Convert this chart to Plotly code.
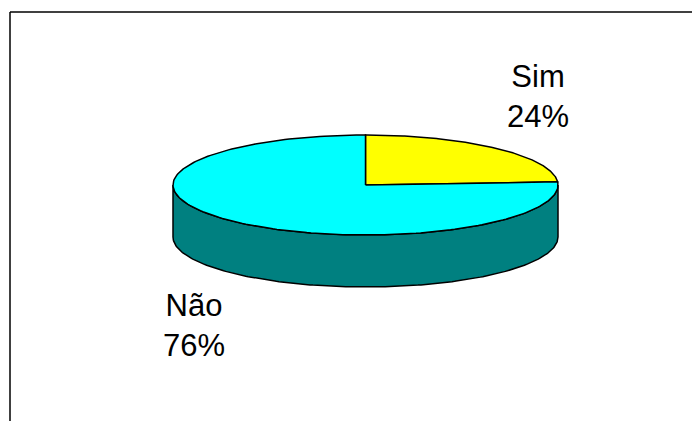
import numpy as np
import plotly.graph_objects as go

# ---- data ----
labels = ["Sim", "Não"]
values = [24, 76]
top_colors = ["#FFFF00", "#00FFFF"]
side_colors = ["#808000", "#008080"]

# ---- layout geometry (pixels) ----
W, H = 692, 421
cx, cy, rx, ry, depth = 365.5, 185.0, 192.5, 50.0, 52.0
label_pos = {"Sim": (538, 96), "Não": (194, 325)}


def arc(t0, t1, dy=0.0, n=200):
    t = np.linspace(t0, t1, n)
    return list(cx + rx * np.cos(t)), list(cy - ry * np.sin(t) + dy)


fracs = np.array(values, dtype=float) / sum(values)
sectors = []
start = np.pi / 2
for f in fracs:
    end = start - 2 * np.pi * f
    sectors.append((end, start))
    start = end

fig = go.Figure()

# side walls (front half only: angles in [-pi, 0] mod 2pi)
for (a, b), col in zip(sectors, side_colors):
    for k in (-1, 0, 1):
        lo, hi = -np.pi + 2 * np.pi * k, 0 + 2 * np.pi * k
        s, e = max(a, lo), min(b, hi)
        if e - s > 1e-6:
            xt, yt = arc(s, e)
            xb, yb = arc(e, s, dy=depth)
            fig.add_trace(go.Scatter(
                x=xt + xb + [xt[0]], y=yt + yb + [yt[0]],
                mode="lines", fill="toself", fillcolor=col,
                line=dict(color="black", width=1.5),
                hoverinfo="skip", showlegend=False))

# top faces
for (a, b), col, lab in zip(sectors, top_colors, labels):
    xa, ya = arc(b, a)
    fig.add_trace(go.Scatter(
        x=[cx] + xa + [cx], y=[cy] + ya + [cy],
        mode="lines", fill="toself", fillcolor=col,
        line=dict(color="black", width=1.5),
        name=lab, hoverinfo="skip", showlegend=False))

# labels
for lab, v in zip(labels, values):
    pct = round(100 * v / sum(values))
    x, y = label_pos[lab]
    fig.add_annotation(x=x, y=y, xref="x", yref="y",
                       text=f"{lab}<br>{pct}%", showarrow=False,
                       xanchor="center", yanchor="middle",
                       font=dict(family="Arial, Liberation Sans", size=31, color="black"))

# chart frame (only top and left edges are inside the picture)
fig.add_shape(type="line", xref="paper", yref="paper", x0=10 / W, x1=1.2,
              y0=1 - 12 / H, y1=1 - 12 / H, line=dict(color="black", width=1.5))
fig.add_shape(type="line", xref="paper", yref="paper", x0=10 / W, x1=10 / W,
              y0=-0.2, y1=1 - 12 / H, line=dict(color="black", width=1.5))

fig.update_xaxes(range=[0, W], visible=False, fixedrange=True)
fig.update_yaxes(range=[H, 0], visible=False, fixedrange=True)
fig.update_layout(width=W, height=H, margin=dict(l=0, r=0, t=0, b=0),
                  plot_bgcolor="white", paper_bgcolor="white")

fig.write_html(
    "out.html",
    config={"displayModeBar": False},
    post_script="document.documentElement.style.overflow='hidden';"
                "document.body.style.overflow='hidden';"
                "document.body.style.margin='0';",
)
